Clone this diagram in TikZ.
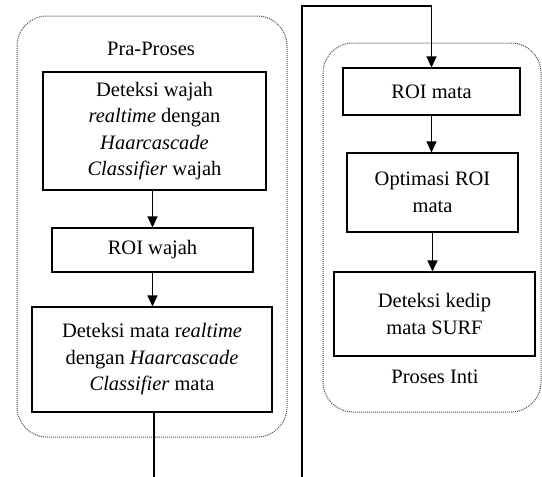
\documentclass[tikz,border=0pt]{standalone}
\usepackage{fontspec}
\setmainfont{Liberation Serif}
\usetikzlibrary{arrows.meta}
\begin{document}
\begin{tikzpicture}[
            x=1pt, y=-1pt,
            font=\fontsize{20.5}{26.5}\selectfont,
            procbox/.style={draw, line width=1.1pt, align=center, inner sep=0pt},
            group/.style={draw=black!70, densely dotted, line width=1pt, rounded corners=30pt},
            flow/.style={line width=1.1pt, -{Triangle[length=11pt,width=10pt]}}
        ]
        \useasboundingbox (0,0) rectangle (542,477);
        % kelompok
        \draw[group] (17,16) rectangle (287,437);
        \draw[group] (323,43) rectangle (541,412);
        \node (pra) at (151,49) {Pra-Proses};
        \node (inti) at (435,377) {Proses Inti};
        % pra-proses
        \node[procbox, minimum width=223pt, minimum height=118pt] (wajah) at (154.5,131)
            {Deteksi wajah\\ \textit{realtime} dengan\\ \textit{Haarcascade}\\ \textit{Classifier} wajah};
        \node[procbox, minimum width=201pt, minimum height=44pt] (roiw) at (152.5,250) {ROI wajah};
        \node[procbox, minimum width=240pt, minimum height=105pt] (mata) at (152,359.5)
            {Deteksi mata r\textit{ealtime}\\ dengan \textit{Haarcascade}\\ \textit{Classifier} mata};
        % proses inti
        \node[procbox, minimum width=177pt, minimum height=47pt] (roim) at (431.5,91.5) {ROI mata};
        \node[procbox, minimum width=171pt, minimum height=79pt] (opt) at (432.5,192.5) {Optimasi ROI\\ mata};
        \node[procbox, minimum width=201pt, minimum height=84pt] (kedip) at (434.5,314) {Deteksi kedip\\ mata SURF};
        \coordinate (down) at (154,477);
        \coordinate (up) at (302,477);
        \coordinate (top) at (302,6);
        % panah
        \draw[flow] (wajah.south -| roiw.north) -- (roiw.north);
        \draw[flow] (roiw.south) -- (roiw.south |- mata.north);
        \draw[line width=1.1pt] (mata.south -| down) -- (down);
        \draw[flow] (up) -- (top) -| (roim.north);
        \draw[flow] (roim.south) -- (roim.south |- opt.north);
        \draw[flow] (opt.south) -- (opt.south |- kedip.north);
    \end{tikzpicture}
\end{document}
